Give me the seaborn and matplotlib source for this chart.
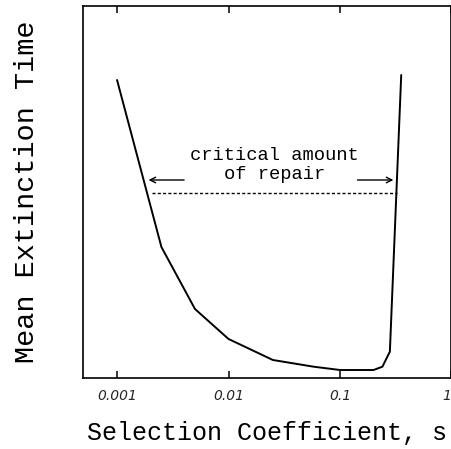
import numpy as np
import pandas as pd
import matplotlib
matplotlib.use("Agg")
import matplotlib.pyplot as plt
import seaborn as sns

# ---- data (y in arbitrary units) ----
selection_coeff = [0.001, 0.0025, 0.005, 0.01, 0.025, 0.058, 0.1, 0.2, 0.24, 0.28, 0.354]
extinction_time = [298, 131, 69, 39, 18, 11.3, 8, 8, 11.3, 26.3, 303]
critical_level = 185.3
critical_range = [0.00205, 0.326]
tick_values = [0.001, 0.01, 0.1, 1]
tick_labels = ["0.001", "0.01", "0.1", "1"]

sns.set_style("ticks")
plt.rcParams["font.family"] = ["Liberation Mono", "DejaVu Sans"]

fig = plt.figure(figsize=(4.52, 4.49), dpi=100)
ax = fig.add_axes([83 / 452, 71 / 449, 368.5 / 452, 372 / 449])

df = pd.DataFrame({"s": selection_coeff, "T": extinction_time})
sns.lineplot(data=df, x="s", y="T", color="black", linewidth=1.4, ax=ax,
             sort=False, estimator=None)

# critical amount of repair (dashed level)
ax.plot(critical_range, [critical_level, critical_level], color="black",
        linewidth=1.0, linestyle=(0, (2.2, 1.6)))

ax.set_xscale("log")
ax.set_xlim(0.000495, 1.0)
ax.set_ylim(0, 372)

ax.set_xticks(tick_values)
ax.set_xticklabels(tick_labels, fontsize=10, fontstyle="italic",
                   family="DejaVu Sans")
ax.get_xticklabels()[-1].set_horizontalalignment("right")
ax.xaxis.set_minor_locator(matplotlib.ticker.NullLocator())
ax.tick_params(axis="x", which="major", direction="in", top=True, bottom=True,
               length=5, width=1.1, pad=8, color="black")
ax.set_yticks([])

for side in ["left", "right", "top", "bottom"]:
    ax.spines[side].set_visible(True)
    ax.spines[side].set_color("black")
    ax.spines[side].set_linewidth(1.2)

ax.set_xlabel("Selection Coefficient, s", fontsize=18, color="black",
              labelpad=13)
ax.set_ylabel("Mean Extinction Time", fontsize=20.5, color="black",
              labelpad=31)

# annotation
ax.text(0.026, 213, "critical amount\nof repair", ha="center", va="center",
        ma="center", fontsize=13.5, linespacing=1.15, color="black")
ax.annotate("", xy=(0.00181, 198), xytext=(0.00423, 198),
            arrowprops=dict(arrowstyle="->", color="black", lw=1.0))
ax.annotate("", xy=(0.319, 198), xytext=(0.1355, 198),
            arrowprops=dict(arrowstyle="->", color="black", lw=1.0))

ax.set_facecolor("white")
fig.patch.set_facecolor("white")
fig.savefig("out.png", dpi=100)
